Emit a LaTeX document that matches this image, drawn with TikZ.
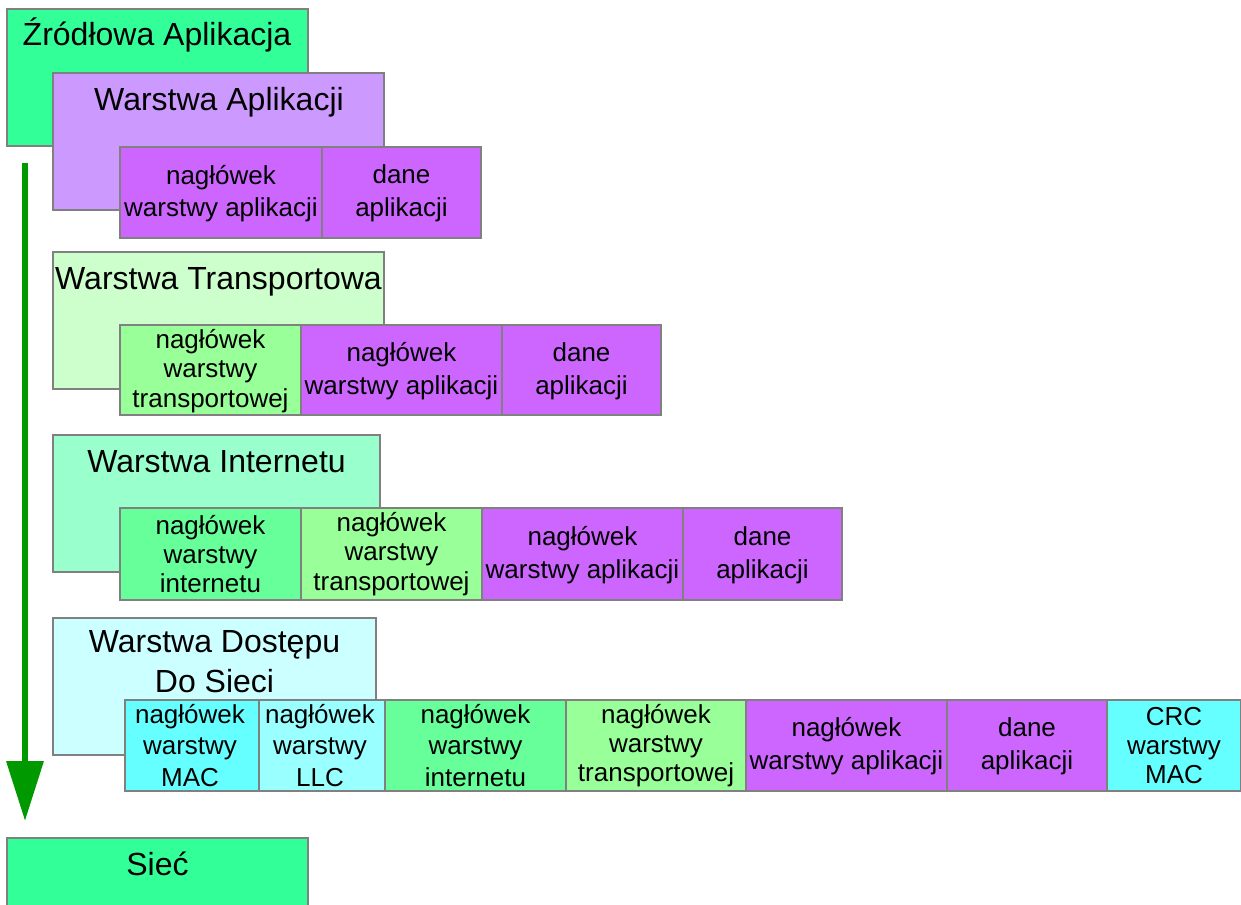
\documentclass[tikz,border=0pt]{standalone}
\usepackage{fontspec}
\setmainfont{Liberation Sans}
\usetikzlibrary{arrows.meta}

\definecolor{srcgreen}{RGB}{51,255,153}
\definecolor{appbox}{RGB}{204,153,255}
\definecolor{appcell}{RGB}{204,102,255}
\definecolor{trbox}{RGB}{204,255,204}
\definecolor{trcell}{RGB}{153,255,153}
\definecolor{inbox}{RGB}{153,255,204}
\definecolor{incell}{RGB}{102,255,153}
\definecolor{nabox}{RGB}{204,255,255}
\definecolor{maccell}{RGB}{102,255,255}
\definecolor{llccell}{RGB}{153,255,255}
\definecolor{arrowgreen}{RGB}{0,153,0}
\definecolor{edgegray}{RGB}{128,128,128}

\tikzset{every picture/.style={line width=0.75pt}}
\tikzset{
  box/.style={draw=edgegray, line width=1.1pt},
  ttl/.style={inner sep=0pt, align=center, font=\fontsize{24}{30}\selectfont},
  lbl/.style={inner sep=0pt, align=center, font=\fontsize{19.5}{24.5}\selectfont},
  lbltight/.style={lbl, font=\fontsize{19.5}{22}\selectfont},
}

\begin{document}
\begin{tikzpicture}[x=0.75pt,y=0.75pt,yscale=-1,xscale=1]
			\useasboundingbox (0,0) rectangle (1241,904);
			
			%Shape: Rectangle [source]
			\draw [box, fill=srcgreen] (7,9) rectangle (308,146) ;
			% Text Node
			\draw (157,45) node [ttl, anchor=base] (src) {Źródłowa Aplikacja};
			
			%Shape: Rectangle [application layer]
			\draw [box, fill=appbox] (53,73) rectangle (384,210) ;
			% Text Node
			\draw (219,110) node [ttl, anchor=base] (appttl) {Warstwa Aplikacji};
			%Shape: Rectangle [row 1]
			\draw [box, fill=appcell] (120,147) rectangle (322,238) ;
			\draw [box, fill=appcell] (322,147) rectangle (481,238) ;
			% Text Node
			\draw (221,193.5) node [lbl] (hdrapp1) {nagłówek\\warstwy aplikacji};
			% Text Node
			\draw (401.5,193.5) node [lbl] (data1) {dane\\aplikacji};
			
			%Shape: Rectangle [transport layer]
			\draw [box, fill=trbox] (53,252) rectangle (384,389) ;
			% Text Node
			\draw (218.5,289) node [ttl, anchor=base] (trttl) {Warstwa Transportowa};
			%Shape: Rectangle [row 2]
			\draw [box, fill=trcell] (120,325) rectangle (301,415) ;
			\draw [box, fill=appcell] (301,325) rectangle (502,415) ;
			\draw [box, fill=appcell] (502,325) rectangle (661,415) ;
			% Text Node
			\draw (210.5,371) node [lbltight] (hdrtr2) {nagłówek\\warstwy\\transportowej};
			% Text Node
			\draw (401.5,371) node [lbl] (hdrapp2) {nagłówek\\warstwy aplikacji};
			% Text Node
			\draw (581.5,371) node [lbl] (data2) {dane\\aplikacji};
			
			%Shape: Rectangle [internet layer]
			\draw [box, fill=inbox] (53,435) rectangle (380,572) ;
			% Text Node
			\draw (216.5,472) node [ttl, anchor=base] (inttl) {Warstwa Internetu};
			%Shape: Rectangle [row 3]
			\draw [box, fill=incell] (120,508) rectangle (301,600) ;
			\draw [box, fill=trcell] (301,508) rectangle (482,600) ;
			\draw [box, fill=appcell] (482,508) rectangle (683,600) ;
			\draw [box, fill=appcell] (683,508) rectangle (842,600) ;
			% Text Node
			\draw (210.5,554) node [lbltight] (hdrin3) {nagłówek\\warstwy\\internetu};
			% Text Node
			\draw (391.5,554) node [lbltight] (hdrtr3) {nagłówek\\warstwy\\transportowej};
			% Text Node
			\draw (582.5,555) node [lbl] (hdrapp3) {nagłówek\\warstwy aplikacji};
			% Text Node
			\draw (762.5,555) node [lbl] (data3) {dane\\aplikacji};
			
			%Shape: Rectangle [network access layer]
			\draw [box, fill=nabox] (53,618) rectangle (376,755) ;
			% Text Node
			\draw (214.5,662) node [ttl] (nattl) {Warstwa Dostępu\\Do Sieci};
			%Shape: Rectangle [row 4]
			\draw [box, fill=maccell] (125,700) rectangle (259,791) ;
			\draw [box, fill=llccell] (259,700) rectangle (385,791) ;
			\draw [box, fill=incell] (385,700) rectangle (566,791) ;
			\draw [box, fill=trcell] (566,700) rectangle (746,791) ;
			\draw [box, fill=appcell] (746,700) rectangle (947,791) ;
			\draw [box, fill=appcell] (947,700) rectangle (1107,791) ;
			\draw [box, fill=maccell] (1107,700) rectangle (1240.5,791) ;
			% Text Node
			\draw (190,745.5) node [lbl, font=\fontsize{19.5}{23.5}\selectfont] (hdrmac4) {nagłówek\\warstwy\\MAC};
			% Text Node
			\draw (320,745.5) node [lbl, font=\fontsize{19.5}{23.5}\selectfont] (hdrllc4) {nagłówek\\warstwy\\LLC};
			% Text Node
			\draw (475.5,745.5) node [lbl, font=\fontsize{19.5}{23.5}\selectfont] (hdrin4) {nagłówek\\warstwy\\internetu};
			% Text Node
			\draw (656,745.5) node [lbltight] (hdrtr4) {nagłówek\\warstwy\\transportowej};
			% Text Node
			\draw (846.5,746) node [lbl] (hdrapp4) {nagłówek\\warstwy aplikacji};
			% Text Node
			\draw (1027,746) node [lbl] (data4) {dane\\aplikacji};
			% Text Node
			\draw (1174,745.5) node [lbltight] (crc4) {CRC\\warstwy\\MAC};
			
			%Shape: Rectangle [network]
			\draw [box, fill=srcgreen] (7,838) rectangle (308,906) ;
			% Text Node
			\draw (157.5,875) node [ttl, anchor=base] (net) {Sieć};
			
			%Straight Lines [down arrow]
			\coordinate (arrtop) at (25,163);
			\coordinate (arrbot) at (25,821);
			\draw [arrowgreen, line width=5pt, -{Triangle[width=27pt,length=45pt]}] (arrtop) -- (arrbot) ;
\end{tikzpicture}
\end{document}
